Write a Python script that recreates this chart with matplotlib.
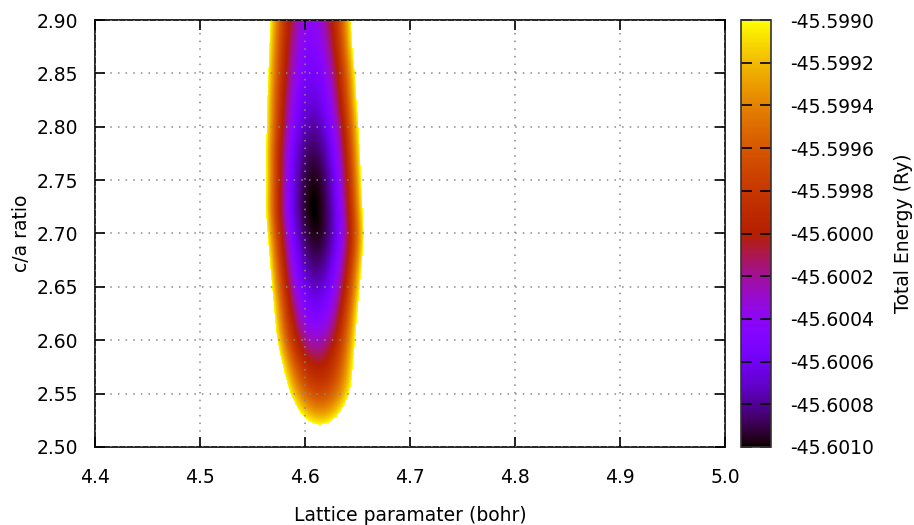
import numpy as np
import matplotlib
matplotlib.use("Agg")
import matplotlib.pyplot as plt
from matplotlib.colors import ListedColormap
from matplotlib.ticker import FormatStrFormatter

# lattice parameter grid (bohr) and c/a grid of the energy table
lattice = [4.54, 4.56, 4.58, 4.60, 4.62, 4.64, 4.66, 4.68]
ca_ratio = [2.500, 2.525, 2.550, 2.575, 2.600, 2.625, 2.650, 2.675, 2.700,
            2.725, 2.750, 2.775, 2.800, 2.825, 2.850, 2.875, 2.900]

# total energy (Ry), one row per c/a value
energy = [
    [-45.59347, -45.59578, -45.59736, -45.59822, -45.59837, -45.59779, -45.59650, -45.59448],
    [-45.59437, -45.59668, -45.59826, -45.59912, -45.59927, -45.59869, -45.59740, -45.59538],
    [-45.59526, -45.59738, -45.59884, -45.59964, -45.59977, -45.59924, -45.59804, -45.59619],
    [-45.59543, -45.59767, -45.59918, -45.59997, -45.60004, -45.59939, -45.59803, -45.59594],
    [-45.59589, -45.59810, -45.59957, -45.60031, -45.60031, -45.59957, -45.59810, -45.59589],
    [-45.59581, -45.59819, -45.59977, -45.60056, -45.60056, -45.59977, -45.59819, -45.59581],
    [-45.59604, -45.59839, -45.59996, -45.60074, -45.60074, -45.59996, -45.59839, -45.59604],
    [-45.59625, -45.59858, -45.60013, -45.60090, -45.60090, -45.60013, -45.59858, -45.59625],
    [-45.59654, -45.59878, -45.60026, -45.60101, -45.60101, -45.60026, -45.59878, -45.59654],
    [-45.59675, -45.59895, -45.60040, -45.60108, -45.60100, -45.60017, -45.59857, -45.59622],
    [-45.59662, -45.59887, -45.60034, -45.60104, -45.60096, -45.60011, -45.59848, -45.59607],
    [-45.59680, -45.59894, -45.60034, -45.60097, -45.60086, -45.60000, -45.59838, -45.59601],
    [-45.59673, -45.59885, -45.60022, -45.60085, -45.60074, -45.59989, -45.59829, -45.59594],
    [-45.59677, -45.59883, -45.60016, -45.60075, -45.60060, -45.59972, -45.59810, -45.59574],
    [-45.59672, -45.59875, -45.60007, -45.60065, -45.60050, -45.59963, -45.59803, -45.59570],
    [-45.59659, -45.59868, -45.60001, -45.60058, -45.60039, -45.59944, -45.59773, -45.59526],
    [-45.59653, -45.59860, -45.59991, -45.60048, -45.60029, -45.59935, -45.59766, -45.59521],
]

e_min, e_max = -45.6010, -45.5990
cb_ticks = [-45.6010, -45.6008, -45.6006, -45.6004, -45.6002, -45.6000,
            -45.5998, -45.5996, -45.5994, -45.5992, -45.5990]

# gnuplot default palette (rgbformulae 7,5,15)
t = np.linspace(0, 1, 256)
rgb = np.stack([np.sqrt(t), t ** 3, np.clip(np.sin(2 * np.pi * t), 0, 1)], axis=1)
cmap = ListedColormap(rgb)
cmap.set_over("white")
cmap.set_under("black")

plt.rcParams["font.family"] = "DejaVu Sans"
plt.rcParams["font.size"] = 13.5

fig = plt.figure(figsize=(9.14, 5.25), dpi=100)
ax = fig.add_axes([95 / 914, 1 - 447 / 525, 630 / 914, 427 / 525])
cax = fig.add_axes([741 / 914, 1 - 447 / 525, 30 / 914, 427 / 525])

da = lattice[1] - lattice[0]
dr = ca_ratio[1] - ca_ratio[0]
im = ax.imshow(np.array(energy), origin="lower", aspect="auto", cmap=cmap,
               vmin=e_min, vmax=e_max, interpolation="bicubic",
               interpolation_stage="data",
               extent=[lattice[0] - da / 2, lattice[-1] + da / 2,
                       ca_ratio[0] - dr / 2, ca_ratio[-1] + dr / 2],
               zorder=0)

ax.set_xlim(4.4, 5.0)
ax.set_ylim(2.5, 2.9)
ax.set_xticks(np.round(np.arange(4.4, 5.01, 0.1), 2))
ax.set_yticks(np.round(np.arange(2.5, 2.901, 0.05), 2))
ax.xaxis.set_major_formatter(FormatStrFormatter("%.1f"))
ax.yaxis.set_major_formatter(FormatStrFormatter("%.2f"))
ax.tick_params(direction="in", length=7, width=1.2, top=True, right=True,
               colors="black")
ax.tick_params(axis="x", pad=15)
ax.tick_params(axis="y", pad=12)
ax.set_axisbelow(False)
ax.grid(True, color="#888888", linestyle=(0, (1, 4)), linewidth=1.1)
for s in ax.spines.values():
    s.set_linewidth(1.2)

ax.set_xlabel("Lattice paramater (bohr)", labelpad=14)
ax.set_ylabel("c/a ratio", labelpad=4)

cb = fig.colorbar(im, cax=cax, ticks=cb_ticks)
cb.ax.yaxis.set_major_formatter(FormatStrFormatter("%.4f"))
cb.ax.tick_params(direction="in", length=8, width=1.2, left=True, right=True,
                  labelleft=False, labelright=True, pad=14)
cb.outline.set_linewidth(1.2)
cb.outline.set_edgecolor("#333333")
cb.set_label("Total Energy (Ry)", labelpad=14)

fig.savefig("out.png", dpi=100)
